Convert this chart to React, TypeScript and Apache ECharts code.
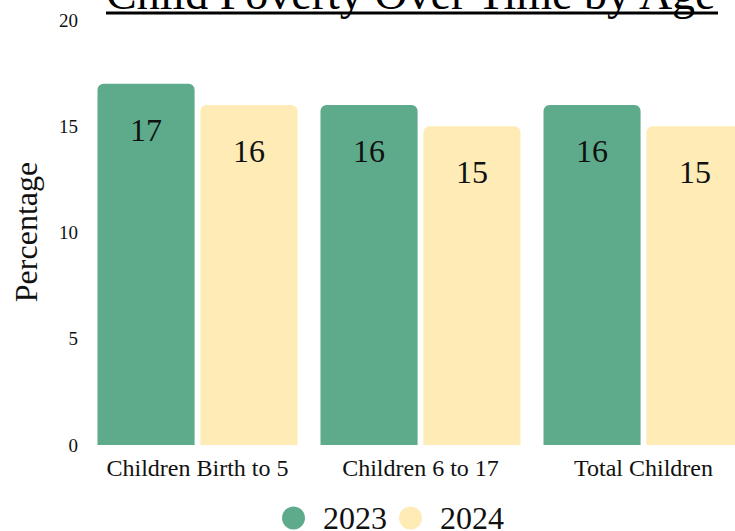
import React, { useEffect, useRef } from "react";
import * as echarts from "echarts";

const categories = ["Children Birth to 5", "Children 6 to 17", "Total Children"];
const values2023 = [17, 16, 16];
const values2024 = [16, 15, 15];
const yTicks = { min: 0, max: 20, interval: 5 };
const titleText = "Child Poverty Over Time by Age";
const yName = "Percentage";

const FONT = "Liberation Serif";

export default function App() {
  const ref = useRef<HTMLDivElement>(null);
  useEffect(() => {
    document.body.style.margin = "0";
    document.body.style.overflow = "hidden";
    const chart = echarts.init(ref.current!, null, { renderer: "svg" });
    chart.setOption({
      animation: false,
      backgroundColor: "#ffffff",
      textStyle: { fontFamily: FONT, color: "#111" },
      grid: { left: 86, right: 5, top: 20, bottom: 86 },
      legend: {
        left: 277,
        top: 497,
        icon: "circle",
        itemWidth: 23,
        itemHeight: 23,
        itemGap: 12,
        textStyle: { fontFamily: FONT, fontSize: 32, color: "#111", padding: [0, 0, 0, 13] },
        data: ["2023", "2024"],
      },
      xAxis: {
        type: "category",
        data: categories,
        axisLine: { show: false },
        axisTick: { show: false },
        axisLabel: {
          fontFamily: FONT,
          fontSize: 24,
          color: "#111",
          margin: 11,
          interval: 0,
          hideOverlap: false,
        },
      },
      yAxis: {
        type: "value",
        min: yTicks.min,
        max: yTicks.max,
        interval: yTicks.interval,
        splitLine: { show: false },
        axisLine: { show: false },
        axisTick: { show: false },
        axisLabel: { fontFamily: FONT, fontSize: 19, color: "#111", margin: 8 },
      },
      graphic: [
        {
          type: "text",
          left: 106,
          top: -30,
          style: { text: titleText, fontFamily: FONT, fontSize: 46, fill: "#000" },
        },
        {
          type: "line",
          shape: { x1: 106, y1: 13, x2: 718, y2: 13 },
          style: { stroke: "#000", lineWidth: 3 },
        },
        {
          type: "text",
          x: 26,
          y: 232,
          rotation: Math.PI / 2,
          style: {
            text: yName,
            fontFamily: FONT,
            fontSize: 32,
            fill: "#111",
            align: "center",
            verticalAlign: "middle",
          },
        },
      ],
      series: [
        {
          name: "2023",
          type: "bar",
          data: values2023,
          barGap: "6%",
          barCategoryGap: "10.3%",
          itemStyle: { color: "#5EAB8B", borderRadius: [6, 6, 0, 0] },
          label: {
            show: true,
            position: "insideTop",
            distance: 30,
            fontFamily: FONT,
            fontSize: 32,
            color: "#111",
          },
        },
        {
          name: "2024",
          type: "bar",
          data: values2024,
          itemStyle: { color: "#FEEBB6", borderRadius: [6, 6, 0, 0] },
          label: {
            show: true,
            position: "insideTop",
            distance: 30,
            fontFamily: FONT,
            fontSize: 32,
            color: "#111",
          },
        },
      ],
    });
    return () => chart.dispose();
  }, []);
  return (
    <div style={{ position: "fixed", left: 0, top: 0, width: 735, height: 531, overflow: "hidden" }}>
      <div ref={ref} style={{ width: 760, height: 531 }} />
    </div>
  );
}
